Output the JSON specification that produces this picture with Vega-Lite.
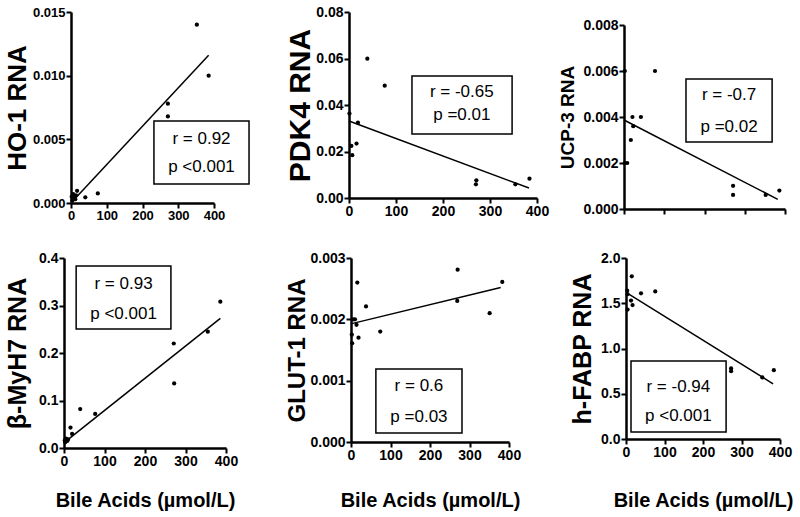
{
"$schema":"https://vega.github.io/schema/vega-lite/v6.json",
"background":"white",
"padding":{"left":3,"top":5,"right":5,"bottom":5},
"config":{"view":{"stroke":null},"font":"Liberation Sans",
 "text":{"fontSize":17},
 "axis":{"grid":false,"domainColor":"black","domainWidth":2.5,"tickColor":"black","tickWidth":2,"tickSize":5,"labelColor":"black","labelFont":"Liberation Sans","labelFontWeight":"bold","labelFontSize":14,"titleFont":"Liberation Sans","titleFontWeight":"bold","titleColor":"black","labelFlush":false,"labelOverlap":false,"labelPadding":1,"labelBound":false}},
"vconcat":[
 {"hconcat":[
  {"width":1,"height":1,"data":{"values":[]},"mark":"point"},
  {"hconcat":[
  {"width":143,"height":191,
   "encoding":{"x":{"field":"x","type":"quantitative","scale":{"domain":[0,400],"nice":false},"axis":{"values":[0,100,200,300,400],"title":null,"labelFontSize":13}},
     "y":{"field":"y","type":"quantitative","scale":{"domain":[0,0.015],"nice":false},"axis":{"values":[0,0.005,0.01,0.015],"format":".3f","title":"HO-1 RNA","titleFontSize":26,"titlePadding":2,"labelFontSize":13}}},
   "layer":[
    {"data":{"values":[{"x":232,"xe":498,"y":0.00149,"ye":0.00644}]},"mark":{"type":"rect","fill":"white","stroke":"black","strokeWidth":1.5},"encoding":{"x2":{"field":"xe"},"y2":{"field":"ye"}}},
    {"data":{"values":[{"x":3,"y":0.0001},{"x":385,"y":0.0116}]},"mark":{"type":"line","color":"black","strokeWidth":1.5},"encoding":{}},
    {"data":{"values":[{"x":352,"y":0.014},{"x":385,"y":0.01},{"x":271,"y":0.0078},{"x":271,"y":0.0068},{"x":75,"y":0.00075},{"x":40,"y":0.00045},{"x":17,"y":0.00096},{"x":14,"y":0.0006},{"x":10,"y":0.0004},{"x":6,"y":0.0007},{"x":4,"y":0.0002},{"x":2,"y":0.0005},{"x":12,"y":0.0003}]},"mark":{"type":"circle","color":"black","opacity":1,"size":18}},
    {"data":{"values":[{"x":365,"y":0.00503,"t":"r = 0.92"},{"x":365,"y":0.00283,"t":"p <0.001"}]},"mark":{"type":"text","fontSize":17,"color":"black","align":"center","baseline":"middle"},"encoding":{"text":{"field":"t"}}}
   ]},
  {"hconcat":[
   {"width":188,"height":186,
    "encoding":{"x":{"field":"x","type":"quantitative","scale":{"domain":[0,400],"nice":false},"axis":{"values":[0,100,200,300,400],"title":null}},
      "y":{"field":"y","type":"quantitative","scale":{"domain":[0,0.08],"nice":false},"axis":{"values":[0,0.02,0.04,0.06,0.08],"format":".2f","title":"PDK4 RNA","titleFontSize":30,"titlePadding":0}}},
    "layer":[
     {"data":{"values":[{"x":134,"xe":347,"y":0.0275,"ye":0.0525}]},"mark":{"type":"rect","fill":"white","stroke":"black","strokeWidth":1.5},"encoding":{"x2":{"field":"xe"},"y2":{"field":"ye"}}},
     {"data":{"values":[{"x":0,"y":0.0331},{"x":383,"y":0.0043}]},"mark":{"type":"line","color":"black","strokeWidth":1.5},"encoding":{}},
     {"data":{"values":[{"x":39,"y":0.0599},{"x":76,"y":0.0483},{"x":1,"y":0.0363},{"x":19,"y":0.0324},{"x":16,"y":0.0234},{"x":5,"y":0.0224},{"x":7,"y":0.0184},{"x":271,"y":0.0076},{"x":270,"y":0.0059},{"x":354,"y":0.0059},{"x":384,"y":0.0083}]},"mark":{"type":"circle","color":"black","opacity":1,"size":18}},
     {"data":{"values":[{"x":240,"y":0.0456,"t":"r = -0.65"},{"x":240,"y":0.0357,"t":"p =0.01"}]},"mark":{"type":"text","fontSize":17,"color":"black","align":"center","baseline":"middle"},"encoding":{"text":{"field":"t"}}}
    ]},
   {"vconcat":[
    {"width":1,"height":1,"data":{"values":[]},"mark":"point"},
    {"width":161,"height":184,
    "encoding":{"x":{"field":"x","type":"quantitative","scale":{"domain":[0,400],"nice":false},"axis":{"values":[0,100,200,300,400],"title":null,"labels":false}},
      "y":{"field":"y","type":"quantitative","scale":{"domain":[0,0.008],"nice":false},"axis":{"values":[0,0.002,0.004,0.006,0.008],"format":".3f","title":"UCP-3 RNA","titleFontSize":19,"titlePadding":5}}},
    "layer":[
     {"data":{"values":[{"x":154,"xe":368,"y":0.00291,"ye":0.00565}]},"mark":{"type":"rect","fill":"white","stroke":"black","strokeWidth":1.5},"encoding":{"x2":{"field":"xe"},"y2":{"field":"ye"}}},
     {"data":{"values":[{"x":0,"y":0.00387},{"x":382,"y":0.00042}]},"mark":{"type":"line","color":"black","strokeWidth":1.5},"encoding":{}},
     {"data":{"values":[{"x":77,"y":0.006},{"x":2,"y":0.006},{"x":21,"y":0.004},{"x":42,"y":0.004},{"x":23,"y":0.0036},{"x":17,"y":0.003},{"x":2,"y":0.002},{"x":8,"y":0.002},{"x":271,"y":0.00101},{"x":271,"y":0.00061},{"x":352,"y":0.00061},{"x":386,"y":0.0008}]},"mark":{"type":"circle","color":"black","opacity":1,"size":18}},
     {"data":{"values":[{"x":261,"y":0.00496,"t":"r = -0.7"},{"x":261,"y":0.00357,"t":"p =0.02"}]},"mark":{"type":"text","fontSize":17,"color":"black","align":"center","baseline":"middle"},"encoding":{"text":{"field":"t"}}}
    ]}
   ],"spacing":5}
  ],"spacing":9}
  ],"spacing":35}
 ],"spacing":0},
 {"hconcat":[
  {"width":1,"height":1,"data":{"values":[]},"mark":"point"},
  {"hconcat":[
  {"width":162,"height":190,
   "encoding":{"x":{"field":"x","type":"quantitative","scale":{"domain":[0,400],"nice":false},"axis":{"values":[0,100,200,300,400],"title":"Bile Acids (µmol/L)","titleFontSize":20,"titlePadding":22}},
     "y":{"field":"y","type":"quantitative","scale":{"domain":[0,0.4],"nice":false},"axis":{"values":[0,0.1,0.2,0.3,0.4],"format":".1f","title":"β-MyH7 RNA","titleFontSize":25,"titlePadding":8}}},
   "layer":[
    {"data":{"values":[{"x":30,"xe":264,"y":0.2505,"ye":0.383}]},"mark":{"type":"rect","fill":"white","stroke":"black","strokeWidth":1.5},"encoding":{"x2":{"field":"xe"},"y2":{"field":"ye"}}},
    {"data":{"values":[{"x":1,"y":0.012},{"x":386,"y":0.273}]},"mark":{"type":"line","color":"black","strokeWidth":1.5},"encoding":{}},
    {"data":{"values":[{"x":386,"y":0.308},{"x":355,"y":0.245},{"x":271,"y":0.22},{"x":272,"y":0.136},{"x":40,"y":0.082},{"x":77,"y":0.0716},{"x":16,"y":0.043},{"x":20,"y":0.0295},{"x":5,"y":0.02},{"x":8,"y":0.015},{"x":3,"y":0.012},{"x":10,"y":0.018},{"x":2,"y":0.016}]},"mark":{"type":"circle","color":"black","opacity":1,"size":18}},
    {"data":{"values":[{"x":147,"y":0.345,"t":"r = 0.93"},{"x":147,"y":0.282,"t":"p <0.001"}]},"mark":{"type":"text","fontSize":17,"color":"black","align":"center","baseline":"middle"},"encoding":{"text":{"field":"t"}}}
   ]},
  {"hconcat":[
   {"width":158,"height":184,
    "encoding":{"x":{"field":"x","type":"quantitative","scale":{"domain":[0,400],"nice":false},"axis":{"values":[0,100,200,300,400],"title":"Bile Acids (µmol/L)","titleFontSize":20,"titlePadding":28}},
      "y":{"field":"y","type":"quantitative","scale":{"domain":[0,0.003],"nice":false},"axis":{"values":[0,0.001,0.002,0.003],"format":".3f","title":"GLUT-1 RNA","titleFontSize":24,"titlePadding":0}}},
    "layer":[
     {"data":{"values":[{"x":63,"xe":281,"y":0.000147,"ye":0.00119}]},"mark":{"type":"rect","fill":"white","stroke":"black","strokeWidth":1.5},"encoding":{"x2":{"field":"xe"},"y2":{"field":"ye"}}},
     {"data":{"values":[{"x":2,"y":0.00193},{"x":379,"y":0.00252}]},"mark":{"type":"line","color":"black","strokeWidth":1.5},"encoding":{}},
     {"data":{"values":[{"x":270,"y":0.00281},{"x":383,"y":0.00261},{"x":16,"y":0.0026},{"x":38,"y":0.00221},{"x":269,"y":0.0023},{"x":351,"y":0.0021},{"x":74,"y":0.0018},{"x":5,"y":0.002},{"x":10,"y":0.002},{"x":14,"y":0.00191},{"x":19,"y":0.0017},{"x":3,"y":0.00161},{"x":2,"y":0.00175}]},"mark":{"type":"circle","color":"black","opacity":1,"size":18}},
     {"data":{"values":[{"x":172,"y":0.000913,"t":"r = 0.6"},{"x":172,"y":0.000408,"t":"p =0.03"}]},"mark":{"type":"text","fontSize":17,"color":"black","align":"center","baseline":"middle"},"encoding":{"text":{"field":"t"}}}
    ]},
   {"width":154,"height":181,
    "encoding":{"x":{"field":"x","type":"quantitative","scale":{"domain":[0,400],"nice":false},"axis":{"values":[0,100,200,300,400],"title":"Bile Acids (µmol/L)","titleFontSize":20,"titlePadding":31}},
      "y":{"field":"y","type":"quantitative","scale":{"domain":[0,2],"nice":false},"axis":{"values":[0,0.5,1,1.5,2],"format":".1f","title":"h-FABP RNA","titleFontSize":25,"titlePadding":5}}},
    "layer":[
     {"data":{"values":[{"x":13,"xe":260,"y":0.077,"ye":0.862}]},"mark":{"type":"rect","fill":"white","stroke":"black","strokeWidth":1.5},"encoding":{"x2":{"field":"xe"},"y2":{"field":"ye"}}},
     {"data":{"values":[{"x":0,"y":1.62},{"x":382,"y":0.61}]},"mark":{"type":"line","color":"black","strokeWidth":1.5},"encoding":{}},
     {"data":{"values":[{"x":15,"y":1.797},{"x":39,"y":1.61},{"x":76,"y":1.63},{"x":3,"y":1.64},{"x":4,"y":1.6},{"x":13,"y":1.53},{"x":17,"y":1.48},{"x":4,"y":1.43},{"x":273,"y":0.78},{"x":273,"y":0.75},{"x":354,"y":0.68},{"x":384,"y":0.76}]},"mark":{"type":"circle","color":"black","opacity":1,"size":18}},
     {"data":{"values":[{"x":136,"y":0.575,"t":"r = -0.94"},{"x":136,"y":0.254,"t":"p <0.001"}]},"mark":{"type":"text","fontSize":17,"color":"black","align":"center","baseline":"middle"},"encoding":{"text":{"field":"t"}}}
    ]}
  ],"spacing":49}
  ],"spacing":47}
 ],"spacing":1}
],"spacing":29
}
